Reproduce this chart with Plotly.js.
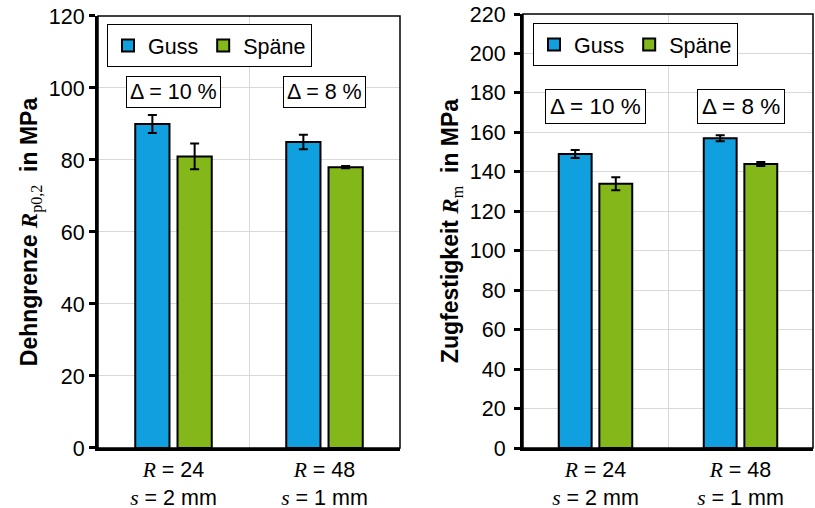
<!DOCTYPE html>
<html>
<head>
<meta charset="utf-8">
<script src="https://cdn.plot.ly/plotly-3.0.1.min.js"></script>
<style>html,body{margin:0;padding:0;background:#fff;}</style>
</head>
<body>
<div id="chart" style="width:815px;height:508px;"></div>
<script>
// ---- data ----
const categories = ['R = 24, s = 2 mm', 'R = 48, s = 1 mm'];
const xTickLabels = [
  '<span style="font-family:\'Liberation Serif\'"><i>R</i></span> = 24<br><span style="font-family:\'Liberation Serif\'"><i>s</i></span> = 2 mm',
  '<span style="font-family:\'Liberation Serif\'"><i>R</i></span> = 48<br><span style="font-family:\'Liberation Serif\'"><i>s</i></span> = 1 mm'
];
const seriesNames = ['Guss', 'Späne'];

// Dehngrenze Rp0,2 (MPa)
const rpGuss = [90, 85];
const rpGussErr = [2.5, 2.0];
const rpSpaene = [81, 78];
const rpSpaeneErr = [3.6, 0.3];

// Zugfestigkeit Rm (MPa)
const rmGuss = [149, 157];
const rmGussErr = [2.0, 1.5];
const rmSpaene = [134, 144];
const rmSpaeneErr = [3.3, 1.0];

const deltaLabels = ['Δ = 10 %', 'Δ = 8 %'];

// ---- styles ----
const colGuss = '#10A0E0';
const colSpaene = '#84B81A';
const FONT = 'Liberation Sans, Arial, sans-serif';
const FS = 21.5;

function barTrace(name, y, err, color, xa, ya, legend, show) {
  return {
    type: 'bar', name: name, x: categories, y: y,
    xaxis: xa, yaxis: ya, legend: legend, showlegend: show,
    marker: {color: color, line: {color: '#000', width: 2}},
    error_y: {type: 'data', array: err, visible: true, color: '#000', thickness: 2, width: 4.5},
    hoverinfo: 'skip'
  };
}

const data = [
  barTrace(seriesNames[0], rpGuss, rpGussErr, colGuss, 'x', 'y', 'legend', true),
  barTrace(seriesNames[1], rpSpaene, rpSpaeneErr, colSpaene, 'x', 'y', 'legend', true),
  barTrace(seriesNames[0], rmGuss, rmGussErr, colGuss, 'x2', 'y2', 'legend2', true),
  barTrace(seriesNames[1], rmSpaene, rmSpaeneErr, colSpaene, 'x2', 'y2', 'legend2', true)
];

const W = 813;
function xAxis(domain, anchor) {
  return {
    domain: domain, anchor: anchor, type: 'category',
    categoryorder: 'array', categoryarray: categories,
    tickmode: 'array', tickvals: categories, ticktext: xTickLabels,
    tickson: 'boundaries', ticks: '',
    showgrid: true, gridcolor: '#D9D9D9', gridwidth: 1,
    showline: true, linecolor: '#000', linewidth: 3,
    tickfont: {family: FONT, size: FS, color: '#000'},
    range: [-0.5, 1.5], fixedrange: true
  };
}
function yAxis(domain, anchor, maxv, title, standoff, lblStandoff) {
  return {
    domain: domain, anchor: anchor, range: [0, maxv], tick0: 0, dtick: 20,
    ticks: 'outside', ticklen: 6, tickwidth: 3, tickcolor: '#000',
    ticklabelstandoff: lblStandoff,
    showline: true, linecolor: '#000', linewidth: 3,
    showgrid: true, gridcolor: '#D9D9D9', gridwidth: 1, zeroline: false,
    tickfont: {family: FONT, size: FS, color: '#000'},
    title: {text: title, font: {family: FONT, size: 23, color: '#000', weight: 'bold'}, standoff: standoff},
    fixedrange: true
  };
}

const serif = "font-family:'Liberation Serif'";
const layout = {
  width: 815, height: 508,
  margin: {l: 0, r: 2, t: 14, b: 60},
  paper_bgcolor: '#fff', plot_bgcolor: '#fff',
  font: {family: FONT, size: FS, color: '#000'},
  barmode: 'group', bargap: 0.44, bargroupgap: 0.19,
  xaxis: xAxis([98 / W, 400 / W], 'y'),
  yaxis: yAxis([0, 0.9954], 'x', 120,
    'Dehngrenze <span style="' + serif + '"><i>R</i><sub style="font-weight:normal">p0,2</sub></span>&nbsp; in MPa', 5, 0),
  xaxis2: xAxis([523 / W, 1], 'y2'),
  yaxis2: yAxis([0, 1], 'x2', 220,
    'Zugfestigkeit <span style="' + serif + '"><i>R</i><sub style="font-weight:normal">m</sub></span>&nbsp; in MPa', 5, 4),
  legend: {
    orientation: 'h', x: 107 / W, y: 0.977, xanchor: 'left', yanchor: 'top',
    bgcolor: '#fff', bordercolor: '#000', borderwidth: 1,
    font: {family: FONT, size: 21.5, color: '#000'}, itemwidth: 30, tracegroupgap: 0
  },
  legend2: {
    orientation: 'h', x: 533 / W, y: 0.979, xanchor: 'left', yanchor: 'top',
    bgcolor: '#fff', bordercolor: '#000', borderwidth: 1,
    font: {family: FONT, size: 21.5, color: '#000'}, itemwidth: 30, tracegroupgap: 0
  },
  shapes: [
    {type: 'rect', xref: 'x domain', yref: 'y domain', x0: 0, x1: 1, y0: 0, y1: 1,
     line: {color: '#000', width: 1.5}, fillcolor: 'rgba(0,0,0,0)', layer: 'above'},
    {type: 'rect', xref: 'x2 domain', yref: 'y2 domain', x0: 0, x1: 1, y0: 0, y1: 1,
     line: {color: '#000', width: 1.5}, fillcolor: 'rgba(0,0,0,0)', layer: 'above'}
  ],
  annotations: [
    {xref: 'x', yref: 'y', x: categories[0], y: 99, text: deltaLabels[0], fs: 21.5, pad: 3},
    {xref: 'x', yref: 'y', x: categories[1], y: 99, text: deltaLabels[1], fs: 21.5, pad: 3},
    {xref: 'x2', yref: 'y2', x: categories[0], y: 173, text: deltaLabels[0], fs: 22.5, pad: 4},
    {xref: 'x2', yref: 'y2', x: categories[1], y: 173, text: deltaLabels[1], fs: 22.5, pad: 4}
  ].map(a => {
    const o = Object.assign({}, a, {
      showarrow: false, bgcolor: '#fff', bordercolor: '#000', borderwidth: 1, borderpad: a.pad,
      font: {family: FONT, size: a.fs, color: '#000'}
    });
    delete o.fs; delete o.pad;
    return o;
  })
};

Plotly.newPlot('chart', data, layout, {displayModeBar: false, staticPlot: true});
</script>
</body>
</html>
